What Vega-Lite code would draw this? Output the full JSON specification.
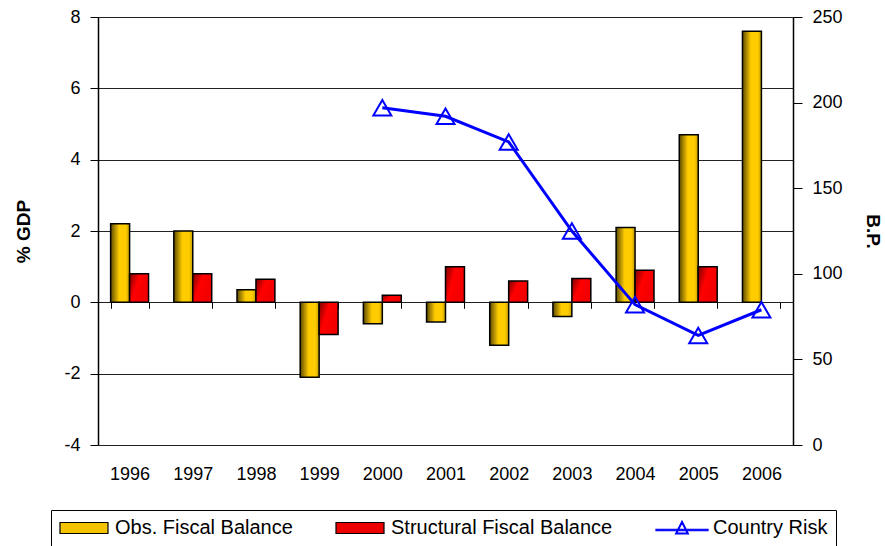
{
  "$schema": "https://vega.github.io/schema/vega-lite/v6.json",
  "width": 695,
  "height": 428,
  "autosize": {"type": "none"},
  "padding": {"left": 98, "top": 17, "right": 92, "bottom": 101},
  "background": "white",
  "config": {
    "font": "Liberation Sans",
    "view": {"stroke": null},
    "axis": {"labelFont": "Liberation Sans", "labelFontSize": 18, "labelColor": "#000", "titleFont": "Liberation Sans", "titleColor": "#000"}
  },
  "data": {
    "values": [
      {"year": "1996", "series": "Obs. Fiscal Balance", "value": 2.2},
      {"year": "1997", "series": "Obs. Fiscal Balance", "value": 2.0},
      {"year": "1998", "series": "Obs. Fiscal Balance", "value": 0.35},
      {"year": "1999", "series": "Obs. Fiscal Balance", "value": -2.1},
      {"year": "2000", "series": "Obs. Fiscal Balance", "value": -0.6},
      {"year": "2001", "series": "Obs. Fiscal Balance", "value": -0.55},
      {"year": "2002", "series": "Obs. Fiscal Balance", "value": -1.2},
      {"year": "2003", "series": "Obs. Fiscal Balance", "value": -0.4},
      {"year": "2004", "series": "Obs. Fiscal Balance", "value": 2.1},
      {"year": "2005", "series": "Obs. Fiscal Balance", "value": 4.7},
      {"year": "2006", "series": "Obs. Fiscal Balance", "value": 7.6},
      {"year": "1996", "series": "Structural Fiscal Balance", "value": 0.8},
      {"year": "1997", "series": "Structural Fiscal Balance", "value": 0.8},
      {"year": "1998", "series": "Structural Fiscal Balance", "value": 0.65},
      {"year": "1999", "series": "Structural Fiscal Balance", "value": -0.9},
      {"year": "2000", "series": "Structural Fiscal Balance", "value": 0.2},
      {"year": "2001", "series": "Structural Fiscal Balance", "value": 1.0},
      {"year": "2002", "series": "Structural Fiscal Balance", "value": 0.6},
      {"year": "2003", "series": "Structural Fiscal Balance", "value": 0.67},
      {"year": "2004", "series": "Structural Fiscal Balance", "value": 0.9},
      {"year": "2005", "series": "Structural Fiscal Balance", "value": 1.0},
      {"year": "2000", "series": "Country Risk", "bp": 197},
      {"year": "2001", "series": "Country Risk", "bp": 192},
      {"year": "2002", "series": "Country Risk", "bp": 177},
      {"year": "2003", "series": "Country Risk", "bp": 125},
      {"year": "2004", "series": "Country Risk", "bp": 82},
      {"year": "2005", "series": "Country Risk", "bp": 64},
      {"year": "2006", "series": "Country Risk", "bp": 79}
    ]
  },
  "layer": [
    {
      "layer": [
        {
          "transform": [{"filter": "datum.series === 'Obs. Fiscal Balance'"}],
          "mark": {
            "type": "bar", "stroke": "#000", "strokeWidth": 1.5,
            "fill": {"gradient": "linear", "x1": 0, "y1": 0, "x2": 1, "y2": 0, "stops": [{"offset": 0, "color": "#5c4a00"}, {"offset": 0.45, "color": "#ffcc00"}, {"offset": 0.8, "color": "#ffcc00"}, {"offset": 1, "color": "#c49c00"}]}
          },
          "encoding": {
            "x": {
              "field": "year", "type": "nominal",
              "scale": {"paddingInner": 0.4, "paddingOuter": 0.2},
              "axis": {"orient": "bottom", "title": null, "domain": false, "grid": false, "ticks": true, "tickBand": "extent", "tickSize": 6, "tickColor": "#000", "tickWidth": 1, "offset": -142.7, "labelPadding": 157, "labelAngle": 0}
            },
            "xOffset": {"field": "series", "type": "nominal", "scale": {"domain": ["Obs. Fiscal Balance", "Structural Fiscal Balance"]}},
            "y": {
              "field": "value", "type": "quantitative",
              "scale": {"domain": [-4, 8], "nice": false, "zero": false},
              "axis": {"values": [-4, -2, 0, 2, 4, 6, 8], "labelExpr": "replace(datum.label, '\u2212', '-')", "title": "% GDP", "titleFontSize": 19, "titleFontWeight": "bold", "titlePadding": 30, "grid": true, "gridColor": "#222", "gridWidth": 1, "domainColor": "#000", "domainWidth": 1.5, "tickColor": "#000", "tickSize": 8, "labelPadding": 10}
            }
          }
        },
        {
          "transform": [{"filter": "datum.series === 'Structural Fiscal Balance'"}],
          "mark": {
            "type": "bar", "stroke": "#000", "strokeWidth": 1.5,
            "fill": {"gradient": "linear", "x1": 0, "y1": 0, "x2": 1, "y2": 0.5, "stops": [{"offset": 0, "color": "#7a0000"}, {"offset": 0.45, "color": "#ff0000"}, {"offset": 1, "color": "#f00000"}]}
          },
          "encoding": {
            "x": {"field": "year", "type": "nominal"},
            "xOffset": {"field": "series", "type": "nominal"},
            "y": {"field": "value", "type": "quantitative"}
          }
        }
      ]
    },
    {
      "transform": [{"filter": "datum.series === 'Country Risk'"}],
      "layer": [
        {
          "mark": {"type": "line", "strokeWidth": 3, "color": "#0000ff"},
          "encoding": {
            "x": {"field": "year", "type": "nominal"},
            "y": {
              "field": "bp", "type": "quantitative",
              "scale": {"domain": [0, 250], "nice": false},
              "axis": {"orient": "right", "values": [0, 50, 100, 150, 200, 250], "title": "B.P.", "titleFontSize": 19, "titleFontWeight": "bold", "titlePadding": 20, "grid": false, "domainColor": "#000", "domainWidth": 1.5, "tickColor": "#000", "tickSize": 9, "labelPadding": 10}
            }
          }
        },
        {
          "mark": {"type": "point", "shape": "triangle-up", "size": 324, "filled": false, "stroke": "#0000ff", "strokeWidth": 2, "opacity": 1},
          "encoding": {
            "x": {"field": "year", "type": "nominal"},
            "y": {"field": "bp", "type": "quantitative"}
          }
        },
        {
          "transform": [{"filter": "false"}],
          "mark": {"type": "point", "filled": true, "opacity": 1, "strokeWidth": 1.2},
          "encoding": {
            "fill": {
              "field": "series", "type": "nominal",
              "scale": {"domain": ["Obs. Fiscal Balance", "Structural Fiscal Balance", "Country Risk"], "range": ["#f5c400", "#ee0000", "#0000ff"]},
              "legend": {
                "title": null, "orient": "none", "legendX": -47, "legendY": 493, "direction": "horizontal",
                "labelFont": "Liberation Sans", "labelFontSize": 20, "labelColor": "#000", "labelLimit": 400,
                "symbolSize": 100, "symbolStrokeWidth": 1.2, "symbolOpacity": 1, "symbolOffset": 15, "labelOffset": 21, "columnPadding": 40, "padding": 8,
                "strokeColor": "#000", "fillColor": "#fff"
              }
            },
            "stroke": {
              "field": "series", "type": "nominal",
              "scale": {"domain": ["Obs. Fiscal Balance", "Structural Fiscal Balance", "Country Risk"], "range": ["#000000", "#000000", "#0000ff"]},
              "legend": {
                "title": null, "orient": "none", "legendX": -47, "legendY": 493, "direction": "horizontal",
                "labelFont": "Liberation Sans", "labelFontSize": 20, "labelColor": "#000", "labelLimit": 400,
                "symbolSize": 100, "symbolStrokeWidth": 1.2, "symbolOpacity": 1, "symbolOffset": 15, "labelOffset": 21, "columnPadding": 40, "padding": 8,
                "strokeColor": "#000", "fillColor": "#fff"
              }
            },
            "shape": {
              "field": "series", "type": "nominal",
              "scale": {"domain": ["Obs. Fiscal Balance", "Structural Fiscal Balance", "Country Risk"], "range": ["M-4.8,-1.1H4.8V1.1H-4.8Z", "M-4.8,-1.1H4.8V1.1H-4.8Z", "M-5.2,0.25H5.2V0.55H-5.2Z M0,-1.4L1.3,1.2L-1.3,1.2Z M0,-1.05L-1.02,1.0L1.02,1.0Z"]},
              "legend": {
                "title": null, "orient": "none", "legendX": -47, "legendY": 493, "direction": "horizontal",
                "labelFont": "Liberation Sans", "labelFontSize": 20, "labelColor": "#000", "labelLimit": 400,
                "symbolSize": 100, "symbolStrokeWidth": 1.2, "symbolOpacity": 1, "symbolOffset": 15, "labelOffset": 21, "columnPadding": 40, "padding": 8,
                "strokeColor": "#000", "fillColor": "#fff"
              }
            }
          }
        }
      ]
    }
  ],
  "resolve": {"scale": {"y": "independent"}}
}
